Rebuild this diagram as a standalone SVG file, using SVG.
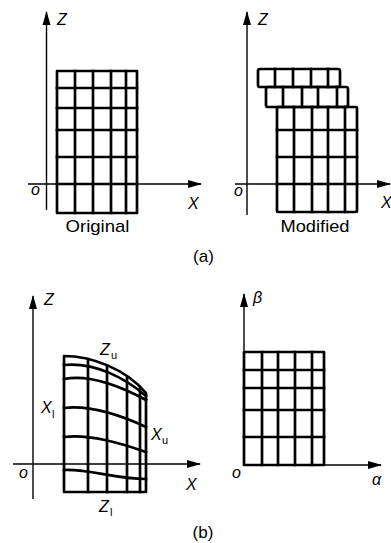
<svg xmlns="http://www.w3.org/2000/svg" width="391" height="543" viewBox="0 0 391 543">
<style>
.axis{stroke:#000;stroke-width:1.4;fill:none}
.grid{stroke:#000;stroke-width:2.7;fill:none;stroke-linejoin:round;stroke-linecap:square}
.lbl{font-family:"Liberation Sans",Arial,sans-serif;font-size:16px;font-style:italic;fill:#000}
.sub{font-family:"Liberation Sans",Arial,sans-serif;font-size:11px;fill:#000}
.cap{font-family:"Liberation Sans",Arial,sans-serif;font-size:17px;fill:#000;text-anchor:middle}
</style>
<defs>
<marker id="arr" markerUnits="userSpaceOnUse" markerWidth="14" markerHeight="10" viewBox="0 0 14 10" refX="13" refY="5" orient="auto">
<path d="M0,1 L14,5 L0,9 Z" fill="#000"/>
</marker>
</defs>

<!-- Panel (a) left: Original -->
<g id="a-original">
<g id="a-original-axes">
<line class="axis" x1="46.5" y1="210" x2="46.5" y2="12" marker-end="url(#arr)"/>
<line class="axis" x1="28" y1="184" x2="201" y2="184" marker-end="url(#arr)"/>
<text class="lbl" x="57" y="25">Z</text>
<text class="lbl" x="188" y="209">X</text>
<text class="lbl" x="31" y="195">o</text>
</g>
<g id="a-original-grid">
<rect class="grid" x="57" y="71" width="80" height="142"/>
<path class="grid" d="M75,71V213M93,71V213M111,71V213M126,71V213M57,88H137M57,108H137M57,130H137M57,157H137M57,184H137"/>
</g>
<text class="cap" x="97.5" y="232" textLength="64" lengthAdjust="spacingAndGlyphs">Original</text>
</g>

<!-- Panel (a) right: Modified -->
<g id="a-modified">
<g id="a-modified-axes">
<line class="axis" x1="247" y1="215" x2="247" y2="12" marker-end="url(#arr)"/>
<line class="axis" x1="235" y1="184" x2="390" y2="184" marker-end="url(#arr)"/>
<text class="lbl" x="258" y="25">Z</text>
<text class="lbl" x="381" y="208">X</text>
<text class="lbl" x="234" y="196">o</text>
</g>
<g id="a-modified-grid">
<rect class="grid" x="258" y="69" width="82" height="18" rx="2"/>
<path class="grid" d="M275,69V87M293,69V87M311,69V87M328,69V87"/>
<rect class="grid" x="266" y="87" width="82" height="20" rx="2"/>
<path class="grid" d="M283,87V107M302,87V107M318,87V107M337,87V107"/>
<rect class="grid" x="277" y="107" width="80" height="105" rx="1"/>
<path class="grid" d="M294,107V212M312,107V212M328,107V212M345,107V212M277,130H357M277,157H357M277,184H357"/>
</g>
<text class="cap" x="315" y="232" textLength="69" lengthAdjust="spacingAndGlyphs">Modified</text>
</g>

<text id="label-a" class="cap" x="203.5" y="262">(a)</text>

<!-- Panel (b) left: physical domain -->
<g id="b-physical">
<g id="b-physical-axes">
<line class="axis" x1="33" y1="499" x2="33" y2="296" marker-end="url(#arr)"/>
<line class="axis" x1="13" y1="464" x2="200" y2="464" marker-end="url(#arr)"/>
<text class="lbl" x="44" y="305">Z</text>
<text class="lbl" x="186" y="490">X</text>
<text class="lbl" x="19" y="478">o</text>
</g>
<g id="b-physical-grid">
<path class="grid" d="M64,356 C90,356 125,368 146,393 L146,492 L64,492 Z"/>
<path class="grid" d="M88,359V492M107,367V492M127,378V492M140,387V492"/>
<path class="grid" d="M64,365 C95,362 125,378 146,396"/>
<path class="grid" d="M64,379 C90,374 120,386 146,400"/>
<path class="grid" d="M64,408 C90,405 120,415 146,427"/>
<path class="grid" d="M64,437 C90,434 120,443 146,452"/>
<path class="grid" d="M64,470 C90,469 115,479 146,479"/>
</g>
<text class="lbl" x="100" y="355">Z</text><text class="sub" x="111" y="359">u</text>
<text class="lbl" x="41" y="413">X</text><text class="sub" x="52" y="418">l</text>
<text class="lbl" x="151" y="440">X</text><text class="sub" x="162" y="444">u</text>
<text class="lbl" x="99" y="512">Z</text><text class="sub" x="110" y="516">l</text>
</g>

<!-- Panel (b) right: computational domain -->
<g id="b-computational">
<g id="b-computational-axes">
<line class="axis" x1="244" y1="465" x2="244" y2="294" marker-end="url(#arr)"/>
<line class="axis" x1="244" y1="465" x2="381" y2="465" marker-end="url(#arr)"/>
<text class="lbl" x="253" y="303">β</text>
<text class="lbl" x="372" y="485">α</text>
<text class="lbl" x="232" y="478">o</text>
</g>
<g id="b-computational-grid">
<rect class="grid" x="244" y="352" width="80" height="113"/>
<path class="grid" d="M262,352V465M278,352V465M295,352V465M312,352V465M244,370H324M244,388H324M244,410H324M244,437H324"/>
</g>
</g>

<text id="label-b" class="cap" x="203" y="538">(b)</text>
</svg>
